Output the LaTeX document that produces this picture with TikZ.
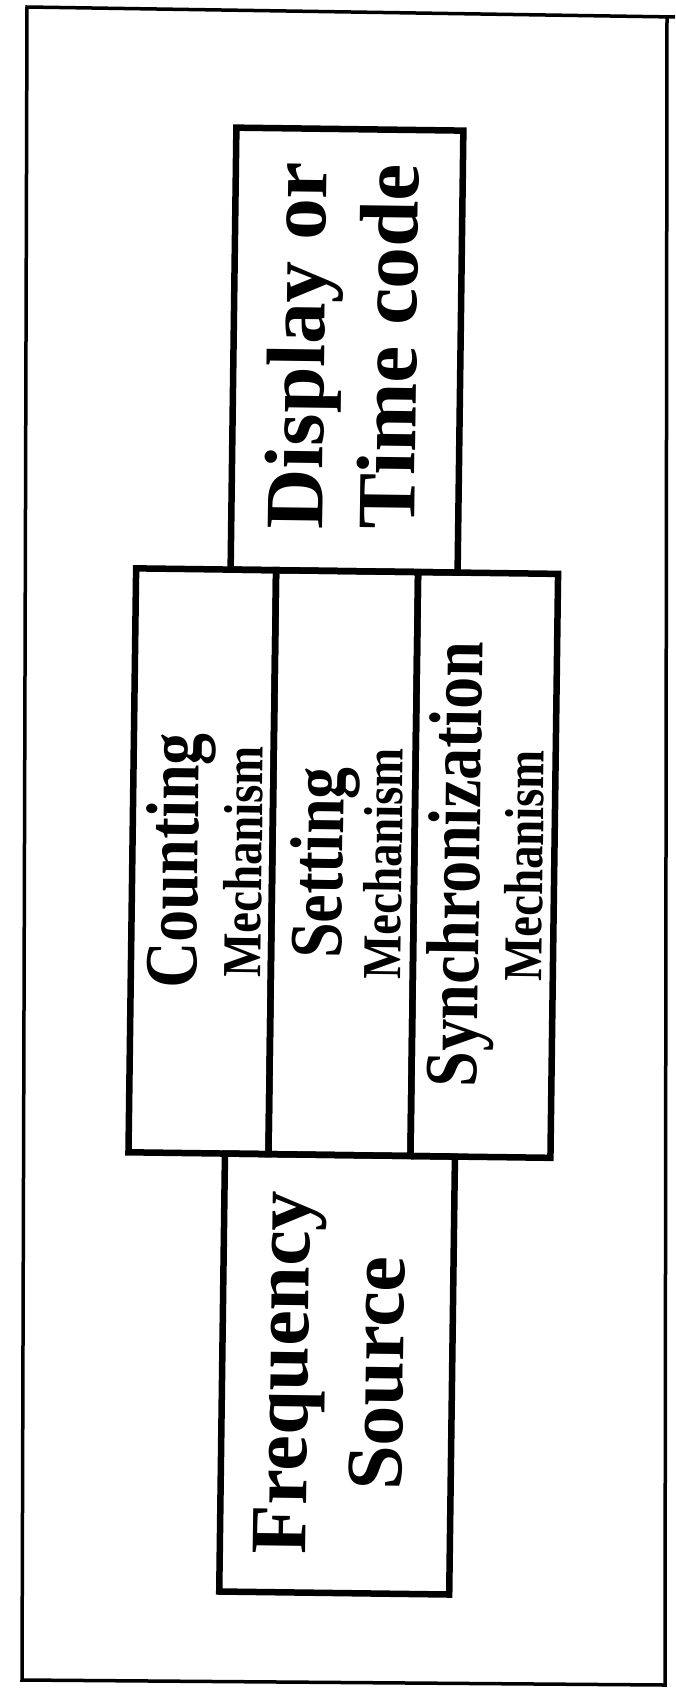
\documentclass[tikz,border=0pt]{standalone}
\usepackage{fontspec}
\setmainfont{Liberation Serif}
\newfontfamily\condfont{Liberation Serif Bold}[FakeStretch=0.85]
\tikzset{
  box/.style={draw, rectangle, line width=6.5pt, inner sep=0pt},
  frame/.style={draw, line width=3.5pt, line join=miter},
  bigtxt/.style={rotate=90, anchor=base, inner sep=0pt, font=\fontsize{83}{83}\selectfont\bfseries},
  midtxt/.style={rotate=90, anchor=base, inner sep=0pt, font=\condfont\fontsize{75}{75}\selectfont},
  smalltxt/.style={rotate=90, anchor=base, inner sep=0pt, font=\condfont\fontsize{55}{55}\selectfont},
}
\begin{document}
\begin{tikzpicture}[x=1pt,y=-1pt]
\useasboundingbox (0,0) rectangle (675,1692);
\fill[white] (0,0) rectangle (675,1692);
% outer frame (slightly skewed, as scanned)
\coordinate (tl) at (27,7);
\coordinate (tr) at (675,17);
\coordinate (rt) at (667,16);
\coordinate (br) at (665,1685);
\coordinate (bl) at (22,1680);
\draw[frame] (tr) -- (tl) -- (bl) -- (br) -- (rt);
\begin{scope}[rotate around={-0.75:(337,846)}, transform shape]
  % boxes
  \node[box, minimum width=227pt, minimum height=442pt] (display) at (340.5,350) {};
  \node[box, minimum width=140pt, minimum height=584pt] (counting) at (202.5,863) {};
  \node[box, minimum width=142pt, minimum height=584pt] (setting) at (343.5,863) {};
  \node[box, minimum width=140pt, minimum height=584pt] (sync) at (484.5,863) {};
  \node[box, minimum width=230pt, minimum height=438pt] (freq) at (344,1374) {};
  % texts
  \node[bigtxt] (disp1) at (318,346) {Display or};
  \node[bigtxt] (disp2) at (410,346) {Time code};
  \node[midtxt] (cnt) at (198,863) {Counting};
  \node[smalltxt] (cntm) at (262,863) {Mechanism};
  \node[midtxt] (set) at (343,863) {Setting};
  \node[smalltxt] (setm) at (402,863) {Mechanism};
  \node[midtxt] (syn) at (480,863) {Synchronization};
  \node[smalltxt] (synm) at (543,863) {Mechanism};
  \node[bigtxt,font=\fontsize{80}{80}\selectfont\bfseries] (freq1) at (315,1373) {Frequency};
  \node[bigtxt,font=\fontsize{80}{80}\selectfont\bfseries] (freq2) at (410,1373) {Source};
\end{scope}
\end{tikzpicture}
\end{document}
